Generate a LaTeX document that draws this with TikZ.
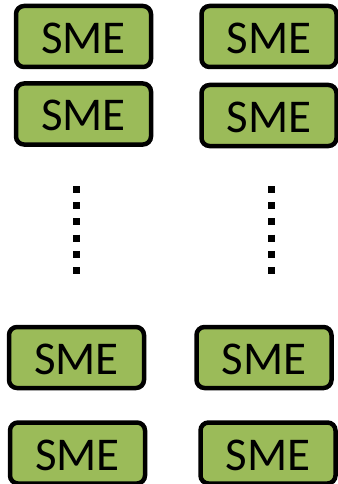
\documentclass[tikz,border=0pt]{standalone}
\usepackage{fontspec}
\setmainfont{Carlito}
\definecolor{smegreen}{HTML}{9BBB59}
\begin{document}
\begin{tikzpicture}[x=1pt,y=-1pt,
    smebox/.style={draw,line width=4.5pt,rounded corners=8pt,fill=smegreen,
      minimum width=135pt,minimum height=61pt,inner sep=0pt,
      text height=34pt,text depth=0pt,
      font=\fontsize{47}{47}\selectfont},
    vdots/.style={line width=7pt,dash pattern=on 7pt off 9.2pt}]
      \useasboundingbox(0,0)rectangle(337,484);
           \foreach \n/\x/\y in{%
             a/83.5/36.5, b/269/36.5, c/83.5/114, d/269/115.5,
             e/76.5/357.5, f/264/357.5, g/77.5/453, h/268/453}{%
             \node[smebox](sme\n) at(\x,\y){SME};
           }
      \coordinate(dotsLtop) at(76.5,186);
      \coordinate(dotsLbot) at(76.5,274);
      \coordinate(dotsRtop) at(271,186);
      \coordinate(dotsRbot) at(271,274);
      \draw[vdots](dotsLtop)--(dotsLbot)
                  (dotsRtop)--(dotsRbot);
\end{tikzpicture}
\end{document}
